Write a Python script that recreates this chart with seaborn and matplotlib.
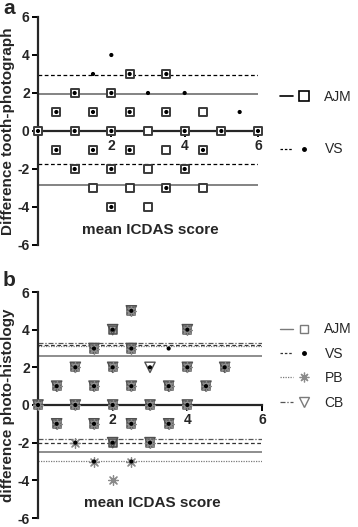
import matplotlib
matplotlib.use("Agg")
import matplotlib.pyplot as plt
from matplotlib.lines import Line2D
from matplotlib.legend_handler import HandlerTuple
import seaborn as sns
import pandas as pd

sns.set_style("ticks")
plt.rcParams['font.family'] = ['Liberation Sans', 'DejaVu Sans']

# ---------- Panel a data ----------
ajm_a_x = [0, 0.5, 0.5, 1, 1, 1, 1.5, 1.5, 1.5, 2, 2, 2, 2, 2.5, 2.5, 2.5, 2.5,
           3, 3, 3, 3.5, 3.5, 3.5, 3.5, 4, 4, 4.5, 4.5, 4.5, 5, 6]
ajm_a_y = [0, 1, -1, 2, 0, -2, 1, -1, -3, 2, 0, -2, -4, 3, 1, -1, -3,
           0, -2, -4, 3, 1, -1, -3, 0, -2, 1, -1, -3, 0, 0]
vs_a_x = [0, 0.5, 0.5, 1, 1, 1, 1.5, 1.5, 1.5, 2, 2, 2, 2, 2, 2.5, 2.5, 2.5,
          3, 3.5, 3.5, 3.5, 4, 4, 4, 4.5, 5, 5.5, 6]
vs_a_y = [0, 1, -1, 2, 0, -2, 3, 1, -1, 4, 2, 0, -2, -4, 3, 1, -1,
          2, 3, 1, -3, 2, 0, -2, -1, 0, 1, 0]
ajm_a_limits = [1.95, -2.85]
vs_a_limits = [2.95, -1.75]

# ---------- Panel b data ----------
ajm_b_x = [0, 0.5, 0.5, 1, 1, 1.5, 1.5, 1.5, 2, 2, 2, 2, 2.5, 2.5, 2.5, 2.5,
           3, 3, 3.5, 3.5, 4, 4, 4, 4.5, 5]
ajm_b_y = [0, 1, -1, 2, 0, 3, 1, -1, 4, 2, 0, -2, 5, 3, 1, -1,
           0, -2, 1, -1, 4, 2, 0, 1, 2]
vs_b_x = [0, 0.5, 0.5, 1, 1, 1, 1.5, 1.5, 1.5, 1.5, 2, 2, 2, 2, 2.5, 2.5, 2.5, 2.5, 2.5,
          3, 3, 3, 3.5, 3.5, 3.5, 4, 4, 4, 4.5, 5]
vs_b_y = [0, 1, -1, 2, 0, -2, 3, 1, -1, -3, 4, 2, 0, -2, 5, 3, 1, -1, -3,
          2, 0, -2, 3, 1, -1, 4, 2, 0, 1, 2]
pb_b_x = [0, 0.5, 0.5, 1, 1, 1, 1.5, 1.5, 1.5, 1.5, 2, 2, 2, 2.5, 2.5, 2.5, 2.5, 2.5,
          3, 3, 3.5, 3.5, 4, 4, 4, 4.5, 5]
pb_b_y = [0, 1, -1, 2, 0, -2, 3, 1, -1, -3, 2, 0, -4, 5, 3, 1, -1, -3,
          0, -2, 1, -1, 4, 2, 0, 1, 2]
cb_b_x = [0, 0.5, 0.5, 1, 1, 1.5, 1.5, 1.5, 2, 2, 2, 2, 2.5, 2.5, 2.5, 2.5,
          3, 3, 3, 3.5, 3.5, 4, 4, 4, 4.5, 5]
cb_b_y = [0, 1, -1, 2, 0, 3, 1, -1, 4, 2, 0, -2, 5, 3, 1, -1,
          2, 0, -2, 1, -1, 4, 2, 0, 1, 2]
ajm_b_limits = [2.6, -2.5]
vs_b_limits = [3.2, -2.0]
pb_b_limits = [3.12, -2.95]
cb_b_limits = [3.3, -1.8]

yticks = [-6, -4, -2, 0, 2, 4, 6]
xticks = [2, 4, 6]

W, H = 358, 527
fig = plt.figure(figsize=(W / 100, H / 100), dpi=100)
ax_a = fig.add_axes([38 / W, 1 - 245 / H, 220 / W, 228 / H])
ax_b = fig.add_axes([38 / W, 1 - 518 / H, 224 / W, 226 / H])

GRAY = '#7a7a7a'
DARK = '#3a3a3a'
ASTER = (8, 2, 0)


def style_axes(ax, ylabel):
    ax.set_xlim(0, 6)
    ax.set_ylim(-6, 6)
    for s in ['top', 'right']:
        ax.spines[s].set_visible(False)
    ax.spines['bottom'].set_position(('data', 0))
    ax.spines['bottom'].set_linewidth(1.6)
    ax.spines['left'].set_linewidth(1.6)
    ax.set_yticks(yticks)
    ax.set_yticklabels([str(t) for t in yticks], fontweight='bold', fontsize=10)
    ax.set_xticks(xticks)
    ax.set_xticklabels([str(t) for t in xticks], fontweight='bold', fontsize=10)
    ax.tick_params(axis='both', length=4, width=1.4, color='black', pad=2)
    ax.set_xlabel('')
    ax.set_ylabel(ylabel, fontweight='bold', fontsize=11, labelpad=2)
    ax.text(3.05, -5.2, 'mean ICDAS score', ha='center', va='center',
            fontweight='bold', fontsize=11)
    ax.patch.set_alpha(0)


# ---------- Panel a ----------
for v in ajm_a_limits:
    ax_a.axhline(v, color=GRAY, lw=1.3, ls='-', zorder=1)
for v in vs_a_limits:
    ax_a.axhline(v, color='black', lw=0.9, ls=(0, (3, 2)), zorder=1)

sns.scatterplot(x=ajm_a_x, y=ajm_a_y, ax=ax_a, marker='s', s=40,
                facecolor='white', edgecolor=DARK, linewidth=1.4,
                clip_on=False, zorder=3)
sns.scatterplot(x=vs_a_x, y=vs_a_y, ax=ax_a, marker='o', s=9,
                color='black', edgecolor='none', linewidth=0,
                clip_on=False, zorder=10)
style_axes(ax_a, 'Difference tooth-photograph')

# ---------- Panel b ----------
for v in ajm_b_limits:
    ax_b.axhline(v, color=GRAY, lw=1.2, ls='-', zorder=1)
for v in vs_b_limits:
    ax_b.axhline(v, color='#333333', lw=0.9, ls=(0, (3, 2)), zorder=1)
for v in pb_b_limits:
    ax_b.axhline(v, color=GRAY, lw=0.9, ls=(0, (1, 1)), zorder=1)
for v in cb_b_limits:
    ax_b.axhline(v, color='#555555', lw=0.9, ls=(0, (4, 1.5, 1, 1.5)), zorder=1)

sns.scatterplot(x=ajm_b_x, y=ajm_b_y, ax=ax_b, marker='s', s=36,
                facecolor='#a0a0a0', edgecolor='#505050', linewidth=1.1,
                clip_on=False, zorder=3)
sns.scatterplot(x=cb_b_x, y=cb_b_y, ax=ax_b, marker='v', s=55,
                facecolor='none', edgecolor='#505050', linewidth=1.0,
                clip_on=False, zorder=4)
sns.scatterplot(x=pb_b_x, y=pb_b_y, ax=ax_b, marker=ASTER, s=50,
                color='#8a8a8a', linewidth=0.9, clip_on=False, zorder=5)
sns.scatterplot(x=vs_b_x, y=vs_b_y, ax=ax_b, marker='o', s=9,
                color='black', edgecolor='none', linewidth=0,
                clip_on=False, zorder=10)
style_axes(ax_b, 'difference photo-histology')

# ---------- Legends ----------
def mk(marker, **kw):
    return Line2D([], [], ls='none', marker=marker, **kw)


def ln(**kw):
    return Line2D([], [], **kw)


hand_a = [
    (ln(color='black', lw=1.2), mk('s', ms=6.5, mfc='white', mec='black', mew=1.2)),
    (ln(color='black', lw=0.9, ls=(0, (2, 1.5))), mk('o', ms=2.5, color='black')),
]
fig.legend(hand_a, ['AJM', 'VS'], loc='center left',
           bbox_to_anchor=(280 / W, 1 - 123 / H), frameon=False,
           handler_map={tuple: HandlerTuple(ndivide=None, pad=0.3)},
           handlelength=2.2, handletextpad=1.0, labelspacing=2.8,
           fontsize=10, borderpad=0, borderaxespad=0)

hand_b = [
    (ln(color=GRAY, lw=1.0), mk('s', ms=5.5, mfc='white', mec=GRAY, mew=1.0)),
    (ln(color='#333333', lw=0.9, ls=(0, (2, 1.5))), mk('o', ms=2.5, color='black')),
    (ln(color=GRAY, lw=0.9, ls=(0, (1, 1))), mk(ASTER, ms=7, color='#8a8a8a', mew=0.9)),
    (ln(color='#555555', lw=0.9, ls=(0, (4, 1.5, 1, 1.5))),
     mk('v', ms=7, mfc='white', mec=GRAY, mew=1.0)),
]
fig.legend(hand_b, ['AJM', 'VS', 'PB', 'CB'], loc='center left',
           bbox_to_anchor=(280 / W, 1 - 366 / H), frameon=False,
           handler_map={tuple: HandlerTuple(ndivide=None, pad=0.3)},
           handlelength=2.2, handletextpad=1.0, labelspacing=0.75,
           fontsize=10, borderpad=0, borderaxespad=0)

fig.text(3 / W, 1 - 9 / H, 'a', fontweight='bold', fontsize=15, va='center', ha='left')
fig.text(3 / W, 1 - 281 / H, 'b', fontweight='bold', fontsize=15, va='center', ha='left')

fig.savefig('out.png', dpi=100)
